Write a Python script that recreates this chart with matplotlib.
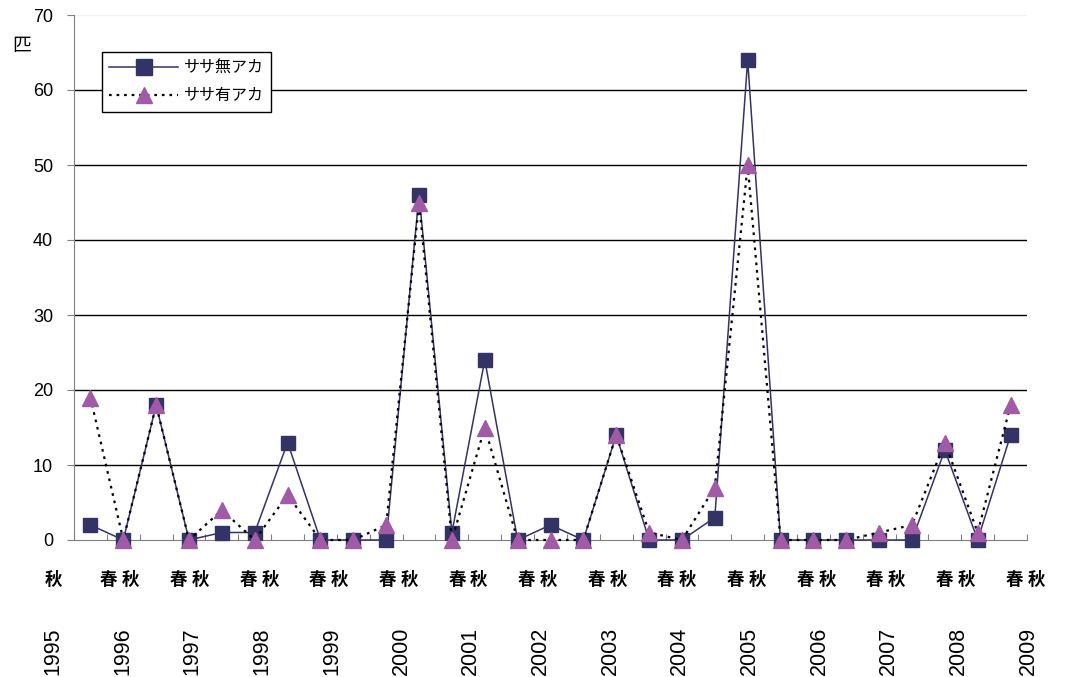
import numpy as np
import matplotlib
matplotlib.use("Agg")
import matplotlib.pyplot as plt

plt.rcParams['font.family'] = ['Liberation Sans', 'Noto Sans CJK JP', 'DejaVu Sans']

# counts per survey (autumn 1995 .. autumn 2009, spring/autumn alternating)
no_sasa = [2, 0, 18, 0, 1, 1, 13, 0, 0, 0, 46, 1, 24, 0, 2, 0, 14, 0, 0, 3,
           64, 0, 0, 0, 0, 0, 12, 0, 14]
with_sasa = [19, 0, 18, 0, 4, 0, 6, 0, 0, 2, 45, 0, 15, 0, 0, 0, 14, 1, 0, 7,
             50, 0, 0, 0, 1, 2, 13, 1, 18]
series_names = ["ササ無アカ", "ササ有アカ"]
years = [str(y) for y in range(1995, 2010)]
spring, autumn = "春", "秋"
y_ticks = [0, 10, 20, 30, 40, 50, 60, 70]

navy = "#333366"
purple = "#A05AA6"

fig = plt.figure(figsize=(10.67, 6.77), dpi=100)
ax = fig.add_axes([74 / 1067, 1 - 540 / 677, 953 / 1067, 525 / 677])

x = np.arange(len(no_sasa))
ax.plot(x, no_sasa, color=navy, lw=1.1, marker="s", ms=10, mfc=navy, mec=navy,
        label=series_names[0], zorder=3, clip_on=False)
ax.plot(x, with_sasa, color="black", lw=1.6, ls=(0, (1.2, 2.2)), marker="^", ms=11,
        mfc=purple, mec=purple, label=series_names[1], zorder=4, clip_on=False)

ax.set_xlim(-0.5, len(no_sasa) - 0.5)
ax.set_ylim(0, 70)
ax.set_yticks(y_ticks)
ax.tick_params(axis="y", direction="out", length=5, pad=10, labelsize=13,
               color="#808080")
ax.set_xticks(np.arange(-0.5, len(no_sasa), 1))
ax.set_xticklabels([])
ax.tick_params(axis="x", direction="in", length=4, color="#808080")

for v in y_ticks[1:-1]:
    ax.axhline(v, color="black", lw=1.0, zorder=1)
ax.axhline(70, color="#f0f0f0", lw=1.0, zorder=1)

for side in ["top", "right"]:
    ax.spines[side].set_visible(False)
ax.spines["left"].set_color("#808080")
ax.spines["bottom"].set_color("#808080")

leg = ax.legend(loc="upper left", bbox_to_anchor=(28 / 953, 1 - 37 / 525), frameon=True,
                fancybox=False, edgecolor="black", framealpha=1,
                prop={"family": "Noto Sans CJK JP", "size": 11.5},
                handlelength=4.3, borderpad=0.45, labelspacing=0.7,
                handletextpad=0.35, borderaxespad=0, markerscale=1.1)
leg.get_frame().set_linewidth(1.0)

fig.text(22 / 1067, 1 - 45 / 677, "匹", fontsize=13.5, family="Noto Sans CJK JP",
         ha="center", va="center")

# season and year rows under the axis
year_x = np.linspace(53, 1028, len(years))
season_y = 1 - 580 / 677
season_font = dict(fontsize=12.5, family="Noto Sans CJK JP", weight="bold",
                   ha="center", va="center")
for i, yr in enumerate(years):
    if i == 0:
        fig.text(year_x[i] / 1067, season_y, autumn, **season_font)
    else:
        fig.text((year_x[i] - 14) / 1067, season_y, spring, **season_font)
        fig.text((year_x[i] + 8) / 1067, season_y, autumn, **season_font)
    fig.text(year_x[i] / 1067, 1 - 651 / 677, yr, fontsize=15.5, rotation=90,
             ha="center", va="center")

fig.savefig("out.png", dpi=100)
